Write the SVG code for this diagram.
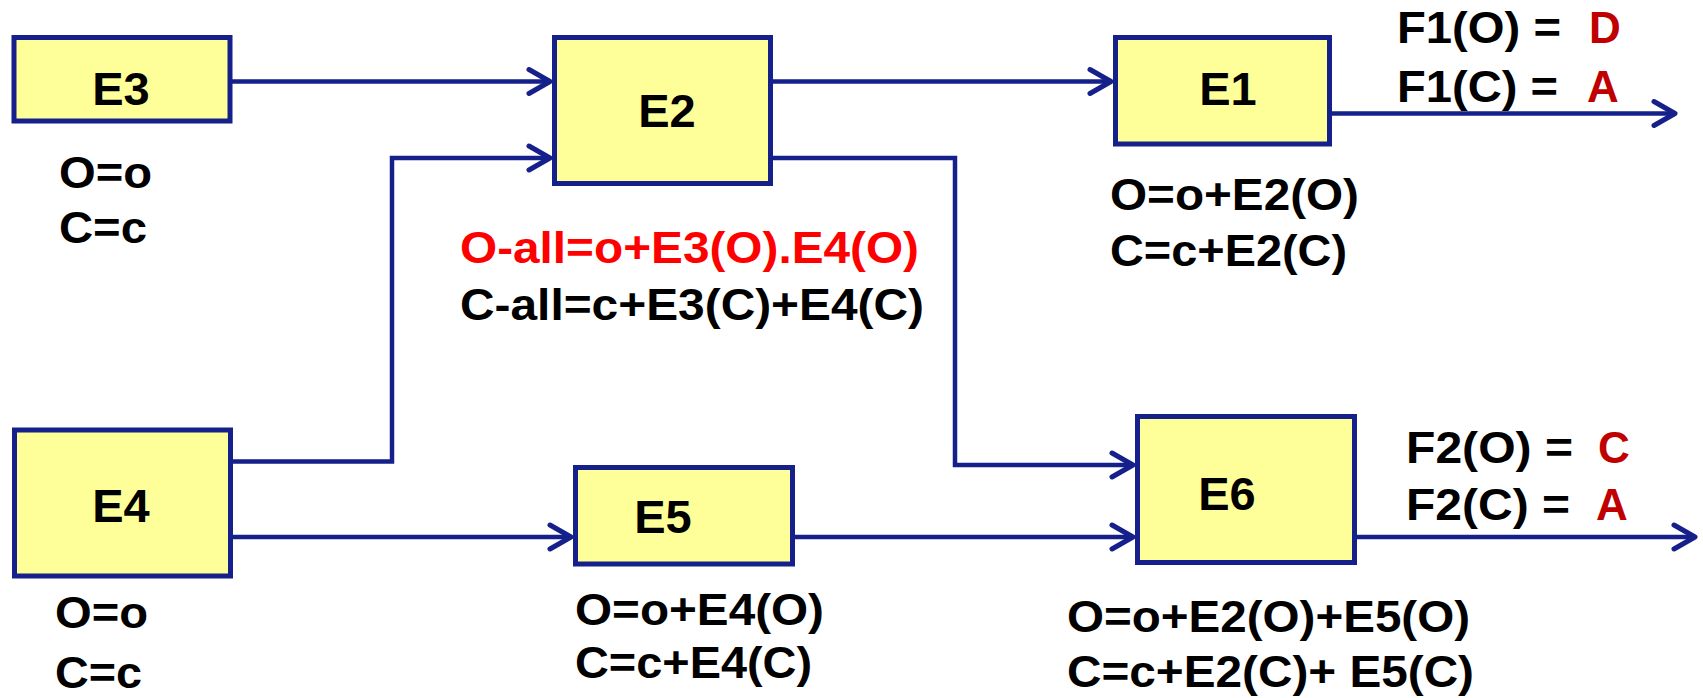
<svg xmlns="http://www.w3.org/2000/svg" width="1703" height="698" viewBox="0 0 1703 698">
<style>
.box{fill:#FFFF99;stroke:#15208A;stroke-width:5}
.lbl{font-family:"Liberation Sans",Arial,sans-serif;font-weight:bold;font-size:47px;fill:#000;text-anchor:middle}
.f{font-family:"Liberation Sans",Arial,sans-serif;font-weight:bold;font-size:45px;fill:#000}
.o{font-family:"Liberation Sans",Arial,sans-serif;font-weight:bold;font-size:44px;fill:#000}
.red{fill:#FF0000}
.dred{fill:#C00000}
.con{fill:none;stroke:#15208A;stroke-width:4.5;marker-end:url(#arr)}
</style>
<defs>
<marker id="arr" markerUnits="userSpaceOnUse" viewBox="-30 -18 34 36" refX="0" refY="0" markerWidth="34" markerHeight="36" orient="auto" overflow="visible">
<path d="M-21,-12 L0,0 L-21,12" fill="none" stroke="#15208A" stroke-width="5" stroke-linecap="round" stroke-linejoin="round"/>
</marker>
</defs>
<g id="connectors">
<path class="con" d="M232 81.5 H550"/>
<path class="con" d="M233 461.5 H392 V158 H550"/>
<path class="con" d="M773 81.5 H1111"/>
<path class="con" d="M773 158 H955 V465 H1133"/>
<path class="con" d="M233 537 H571"/>
<path class="con" d="M795 537 H1133"/>
<path class="con" d="M1332 113.5 H1675"/>
<path class="con" d="M1357 537 H1695"/>
</g>
<g id="E3">
<rect class="box" x="14" y="37.5" width="216" height="83.5"/>
<text class="lbl" x="121" y="105">E3</text>
<text class="f" x="59" y="188" textLength="93" lengthAdjust="spacingAndGlyphs">O=o</text>
<text class="f" x="59" y="243" textLength="88" lengthAdjust="spacingAndGlyphs">C=c</text>
</g>
<g id="E2">
<rect class="box" x="554.5" y="37.5" width="216" height="146"/>
<text class="lbl" x="667" y="127">E2</text>
<text class="f red" x="460" y="263" textLength="459" lengthAdjust="spacingAndGlyphs">O-all=o+E3(O).E4(O)</text>
<text class="f" x="460" y="320" textLength="464" lengthAdjust="spacingAndGlyphs">C-all=c+E3(C)+E4(C)</text>
</g>
<g id="E1">
<rect class="box" x="1115.5" y="37.5" width="214" height="106.5"/>
<text class="lbl" x="1228" y="105">E1</text>
<text class="f" x="1110" y="210" textLength="249" lengthAdjust="spacingAndGlyphs">O=o+E2(O)</text>
<text class="f" x="1110" y="266" textLength="237" lengthAdjust="spacingAndGlyphs">C=c+E2(C)</text>
</g>
<g id="F1">
<text class="o" x="1397" y="43" textLength="164" lengthAdjust="spacingAndGlyphs">F1(O) =</text>
<text class="o dred" x="1589" y="43">D</text>
<text class="o" x="1397" y="102" textLength="161" lengthAdjust="spacingAndGlyphs">F1(C) =</text>
<text class="o dred" x="1587" y="102">A</text>
</g>
<g id="E4">
<rect class="box" x="14.5" y="430" width="216" height="146"/>
<text class="lbl" x="121" y="522">E4</text>
<text class="f" x="55" y="628" textLength="93" lengthAdjust="spacingAndGlyphs">O=o</text>
<text class="f" x="55" y="688" textLength="87" lengthAdjust="spacingAndGlyphs">C=c</text>
</g>
<g id="E5">
<rect class="box" x="575.5" y="467.5" width="217" height="96.5"/>
<text class="lbl" x="663" y="533">E5</text>
<text class="f" x="575" y="625" textLength="249" lengthAdjust="spacingAndGlyphs">O=o+E4(O)</text>
<text class="f" x="575" y="678" textLength="237" lengthAdjust="spacingAndGlyphs">C=c+E4(C)</text>
</g>
<g id="E6">
<rect class="box" x="1137.5" y="416.5" width="217" height="146"/>
<text class="lbl" x="1227" y="510">E6</text>
<text class="f" x="1067" y="632" textLength="403" lengthAdjust="spacingAndGlyphs">O=o+E2(O)+E5(O)</text>
<text class="f" x="1067" y="687" textLength="407" lengthAdjust="spacingAndGlyphs">C=c+E2(C)+ E5(C)</text>
</g>
<g id="F2">
<text class="o" x="1406" y="463" textLength="167" lengthAdjust="spacingAndGlyphs">F2(O) =</text>
<text class="o dred" x="1598" y="463">C</text>
<text class="o" x="1406" y="520" textLength="164" lengthAdjust="spacingAndGlyphs">F2(C) =</text>
<text class="o dred" x="1596" y="520">A</text>
</g>
</svg>
